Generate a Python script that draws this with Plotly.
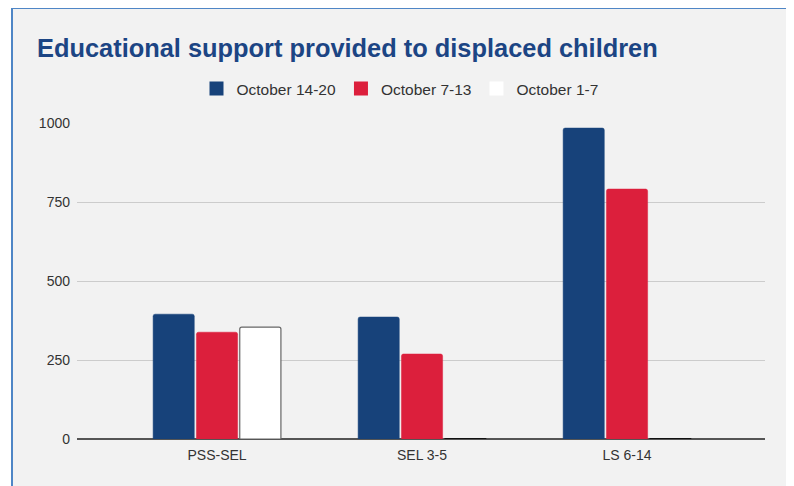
import plotly.graph_objects as go

categories = ["PSS-SEL", "SEL 3-5", "LS 6-14"]
series_names = ["October 14-20", "October 7-13", "October 1-7"]
oct_14_20 = [395, 386, 984]
oct_7_13 = [338, 269, 791]
oct_1_7 = [354, 1, 1]
y_ticks = [0, 250, 500, 750, 1000]

colors = ["#17427a", "#dc1f3c", "#ffffff"]
edges = ["#17427a", "#dc1f3c", ["#666666", "#111111", "#111111"]]

OFF = 8  # page body margin
W, H = 794 - OFF, 486 - OFF
L, T = 77 - OFF, 123 - OFF
R = W - (765 - OFF)
B = H - (439 - OFF)
pw, ph = W - L - R, H - T - B

def px_x(px):
    return (px - OFF - L) / pw

def px_y(py):
    return (H - B - (py - OFF)) / ph

FONT = "Arial, Liberation Sans, sans-serif"

fig = go.Figure()
for name, vals, c, e in zip(series_names, [oct_14_20, oct_7_13, oct_1_7], colors, edges):
    fig.add_bar(name=name, x=categories, y=vals, showlegend=False, legendgroup=name,
                marker=dict(color=c, line=dict(color=e, width=1.2 if c == "#ffffff" else 0.5),
                            cornerradius=2))
for name, c in zip(series_names, colors):
    fig.add_scatter(name=name, x=[None], y=[None], mode="markers", legendgroup=name,
                    marker=dict(symbol="square", size=14, color=c, line=dict(width=0)))

fig.add_shape(type="rect", xref="paper", yref="paper",
              x0=px_x(12), x1=px_x(789),
              y0=px_y(530), y1=px_y(8),
              line=dict(color="#4f86c6", width=2), fillcolor="#f2f2f2", layer="below")

fig.update_layout(
    width=W, height=H,
    margin=dict(l=L, r=R, t=T, b=B, autoexpand=False),
    paper_bgcolor="#ffffff",
    plot_bgcolor="rgba(0,0,0,0)",
    barmode="group",
    bargap=0.366,
    bargroupgap=0.05,
    font=dict(family=FONT, color="#333333", size=14),
    title=dict(text="<b>Educational support provided to displaced children</b>",
               font=dict(family=FONT, size=25.4, color="#1c4584"),
               x=(37 - OFF) / W, xanchor="left", xref="container",
               y=1 - (48 - OFF) / H, yanchor="middle", yref="container"),
    legend=dict(orientation="h", x=px_x(400), xanchor="center",
                y=px_y(89), yanchor="middle",
                font=dict(family=FONT, size=15.5, color="#333333"),
                bgcolor="rgba(0,0,0,0)", traceorder="normal"),
    showlegend=True,
)
fig.update_xaxes(range=[-0.683, 2.673], showgrid=False, showline=False,
                 ticks="", ticklabelstandoff=6, tickfont=dict(size=14, color="#333333"))
fig.update_yaxes(range=[0, 1000], tickvals=y_ticks, showgrid=True,
                 gridcolor="#cccccc", gridwidth=1, zeroline=True,
                 zerolinecolor="#555555", zerolinewidth=2, showline=False,
                 ticks="", ticklabelstandoff=6,
                 tickfont=dict(size=14, color="#333333"))

fig.write_html("out.html")
